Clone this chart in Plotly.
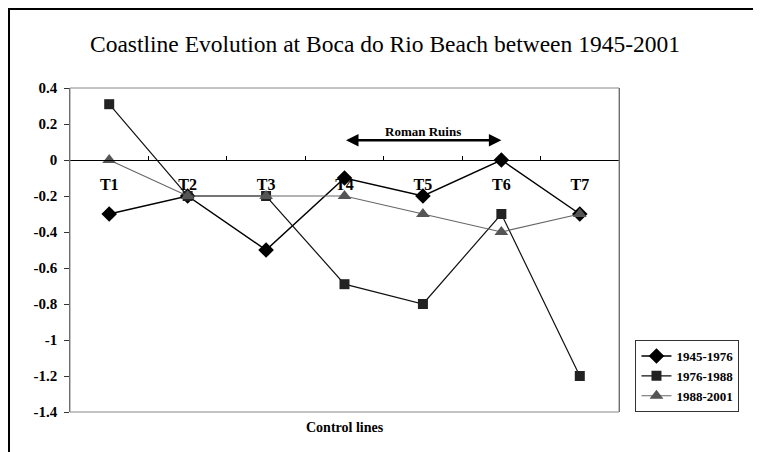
import plotly.graph_objects as go

categories = ["T1", "T2", "T3", "T4", "T5", "T6", "T7"]
series_names = ["1945-1976", "1976-1988", "1988-2001"]
s1945_1976 = [-0.3, -0.2, -0.5, -0.1, -0.2, 0.0, -0.3]
s1976_1988 = [0.31, -0.2, -0.2, -0.69, -0.8, -0.3, -1.2]
s1988_2001 = [0.0, -0.2, -0.2, -0.2, -0.3, -0.4, -0.3]
y_ticks = [0.4, 0.2, 0, -0.2, -0.4, -0.6, -0.8, -1, -1.2, -1.4]
y_tick_text = ["0.4", "0.2", "0", "-0.2", "-0.4", "-0.6", "-0.8", "-1", "-1.2", "-1.4"]

FONT = "Liberation Serif, Times New Roman, serif"

fig = go.Figure()
fig.add_trace(go.Scatter(x=categories, y=s1945_1976, name="<b>" + series_names[0] + "</b>", mode="lines+markers",
                         line=dict(color="#000000", width=1.5),
                         marker=dict(symbol="diamond", size=12, color="#000000")))
fig.add_trace(go.Scatter(x=categories, y=s1976_1988, name="<b>" + series_names[1] + "</b>", mode="lines+markers",
                         line=dict(color="#111111", width=1.2),
                         marker=dict(symbol="square", size=10, color="#222222")))
fig.add_trace(go.Scatter(x=categories, y=s1988_2001, name="<b>" + series_names[2] + "</b>", mode="lines+markers",
                         line=dict(color="#666666", width=1.2),
                         marker=dict(symbol="triangle-up", size=12, color="#555555")))

# plot area frame
fig.add_shape(type="rect", xref="paper", yref="paper", x0=0, x1=1, y0=0, y1=1,
              line=dict(color="#888888", width=1), layer="above")
# outer chart border (only top/left visible), kept just inside the figure's edge
fig.add_shape(type="rect", xref="paper", yref="paper", x0=-0.1111, x1=1.5, y0=-0.5, y1=1.2438,
              line=dict(color="#000000", width=2), layer="above")

# Roman Ruins double arrow
fig.add_annotation(x="T6", y=0.11, ax="T4", ay=0.11, xref="x", yref="y", axref="x", ayref="y",
                   text="", showarrow=True, arrowhead=2, startarrowhead=2, arrowside="end+start",
                   arrowwidth=2.5, arrowsize=1, startarrowsize=1, arrowcolor="#000000")
fig.add_annotation(x="T5", y=0.16, xref="x", yref="y", text="<b>Roman Ruins</b>", showarrow=False,
                   font=dict(family=FONT, size=13, color="#000000"))
fig.add_annotation(x=0.5, y=-0.02, xref="paper", yref="paper", yanchor="top", showarrow=False,
                   text="<b>Control lines</b>", font=dict(family=FONT, size=14, color="#000000"))

fig.update_layout(
    width=761, height=452,
    margin=dict(l=62, r=150, t=80, b=48),
    paper_bgcolor="white", plot_bgcolor="white",
    title=dict(text="Coastline Evolution at Boca do Rio Beach between 1945-2001",
               x=0.4954, xanchor="center", y=0.920, yanchor="middle",
               font=dict(family=FONT, size=23.5, color="#000000")),
    font=dict(family=FONT, color="#000000"),
    showlegend=True,
    legend=dict(x=1.03, xanchor="left", y=0, yanchor="bottom",
                bordercolor="#333333", borderwidth=1, bgcolor="white",
                font=dict(family=FONT, size=13, color="#000000"),
                tracegroupgap=0, itemwidth=30),
    xaxis=dict(type="category", range=[-0.5, 6.5], anchor="free", position=0.7778,
               showline=True, linecolor="#000000", linewidth=1,
               ticks="inside", ticklen=4, tickcolor="#000000", tickson="boundaries",
               showgrid=False, zeroline=False, ticklabelstandoff=10,
               tickprefix="<b>", ticksuffix="</b>",
               tickfont=dict(family=FONT, size=16, color="#000000")),
    yaxis=dict(range=[-1.4, 0.4], tickvals=y_ticks,
               ticktext=["<b>" + t + "</b>&nbsp;" for t in y_tick_text],
               showline=True, mirror=True, linecolor="#555555", linewidth=1.2,
               ticks="outside", ticklen=5, tickcolor="#333333",
               showgrid=False, zeroline=False,
               tickfont=dict(family=FONT, size=15, color="#000000")),
)

fig.write_html("out.html")
